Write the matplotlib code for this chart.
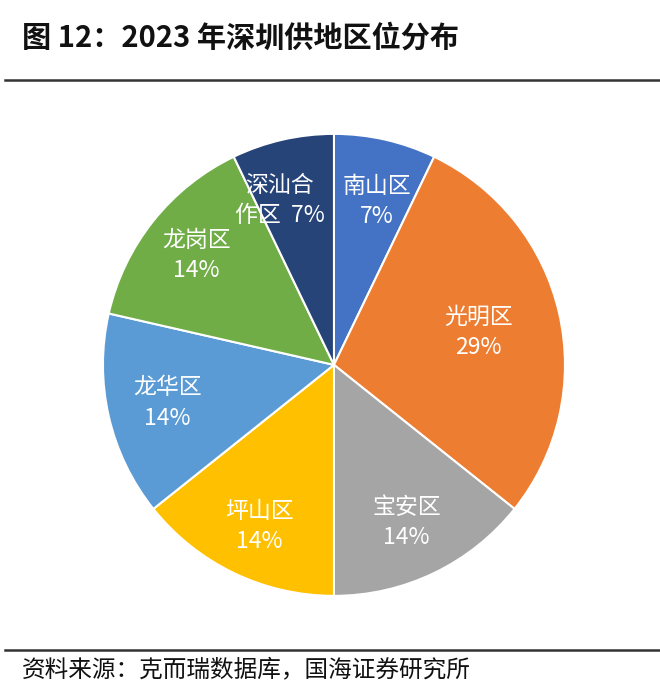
import matplotlib
matplotlib.use('Agg')
import matplotlib.pyplot as plt
from matplotlib.lines import Line2D
import numpy as np

plt.rcParams['font.family'] = ['Noto Sans CJK SC', 'DejaVu Sans']

districts = ['南山区', '光明区', '宝安区', '坪山区', '龙华区', '龙岗区', '深汕合作区']
counts = [1, 4, 2, 2, 2, 2, 1]
label_text = ['南山区\n7%', '光明区\n29%', '宝安区\n14%', '坪山区\n14%',
              '龙华区\n14%', '龙岗区\n14%', '深汕合\n作区  7%']
colors = ['#4472C4', '#ED7D31', '#A5A5A5', '#FFC000', '#5B9BD5', '#70AD47', '#264478']
# label placement: radius fraction and angle nudge (deg)
label_dist = [0.73, 0.64, 0.75, 0.77, 0.74, 0.76, 0.75]
label_nudge = [-2, 0, -1, 1, 0, 0, 5.5]

fig = plt.figure(figsize=(6.6, 6.99), dpi=100)
ax = fig.add_axes([0.156, 0.1475, 0.7, 0.661])

wedges, _ = ax.pie(counts, colors=colors, startangle=90, counterclock=False,
                   radius=1, wedgeprops=dict(edgecolor='white', linewidth=1.5))

for w, txt, d, nd in zip(wedges, label_text, label_dist, label_nudge):
    ang = np.deg2rad((w.theta1 + w.theta2) / 2 + nd)
    ax.text(d * np.cos(ang), d * np.sin(ang), txt, ha='center', va='center',
            color='white', fontsize=16.5, linespacing=1.4)

ax.set_xlim(-1, 1)
ax.set_ylim(-1, 1)
ax.set_aspect('equal')
ax.axis('off')

fig.text(22 / 660, 1 - 38 / 699, '图 12：2023 年深圳供地区位分布', fontsize=21,
         fontweight='bold', ha='left', va='center', color='#111111')
fig.add_artist(Line2D([5 / 660, 1], [1 - 80 / 699, 1 - 80 / 699], color='#333333', lw=1.8))
fig.add_artist(Line2D([5 / 660, 1], [1 - 650 / 699, 1 - 650 / 699], color='#333333', lw=1.8))
fig.text(22 / 660, 1 - 670 / 699, '资料来源：克而瑞数据库，国海证券研究所', fontsize=17,
         ha='left', va='center', color='#111111')

fig.savefig('out.png', dpi=100)
